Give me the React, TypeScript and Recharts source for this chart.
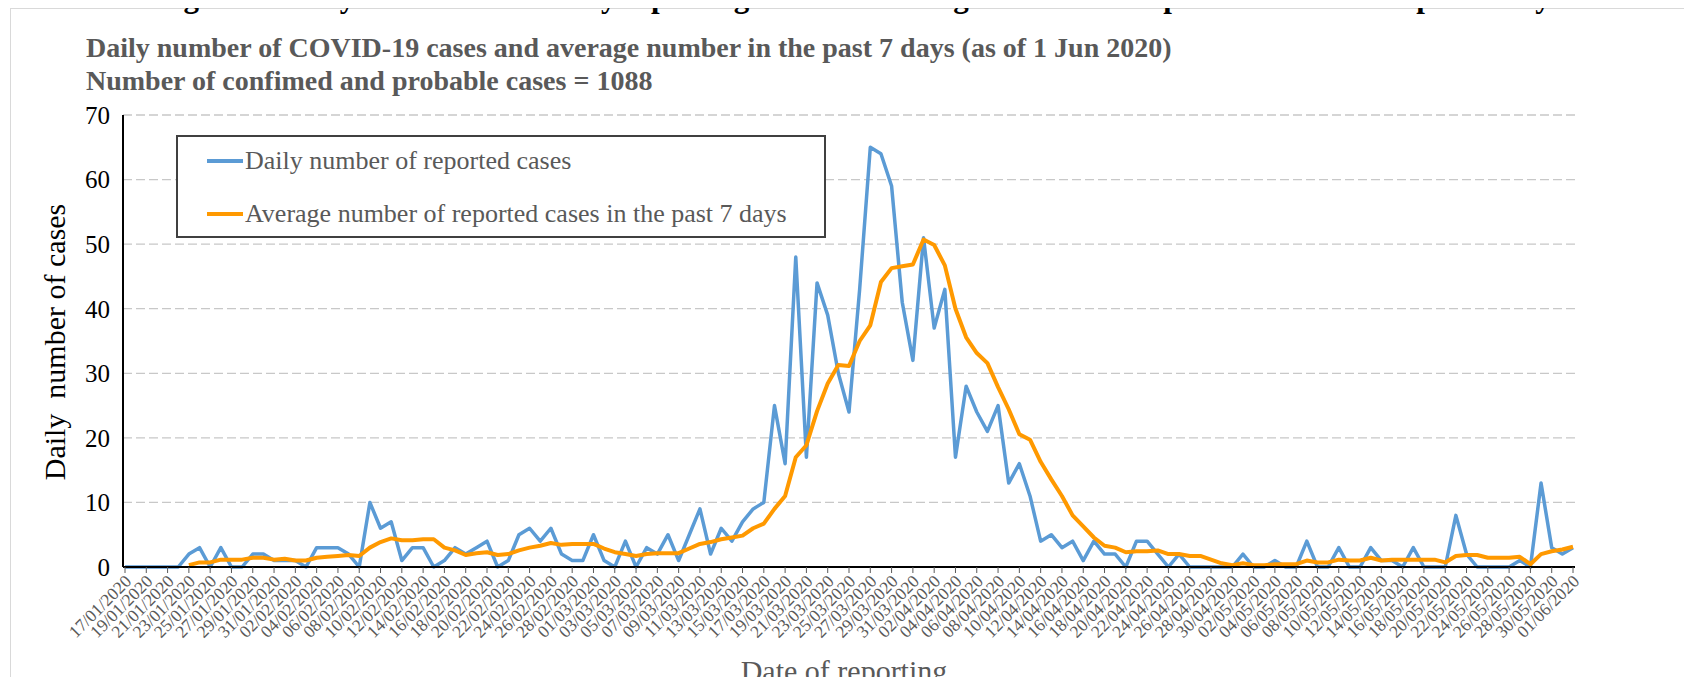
import React from 'react';
import { LineChart, Line, XAxis, YAxis, CartesianGrid, Legend } from 'recharts';

// reporting days, 17/01/2020 .. 01/06/2020
const MONTHS: [string, number, number][] = [
  ['01', 17, 31],
  ['02', 1, 29],
  ['03', 1, 31],
  ['04', 1, 30],
  ['05', 1, 31],
  ['06', 1, 1],
];
const DATES: string[] = [];
MONTHS.forEach(([m, from, to]) => {
  for (let d = from; d <= to; d++) DATES.push(`${String(d).padStart(2, '0')}/${m}/2020`);
});

// daily number of reported cases
const DAILY_JAN = [0, 0, 0, 0, 0, 0, 2, 3, 0, 3, 0, 0, 2, 2, 1];
const DAILY_FEB = [1, 1, 0, 3, 3, 3, 2, 0, 10, 6, 7, 1, 3, 3, 0, 1, 3, 2, 3, 4, 0, 1, 5, 6, 4, 6, 2, 1, 1];
const DAILY_MAR = [5, 1, 0, 4, 0, 3, 2, 5, 1, 5, 9, 2, 6, 4, 7, 9, 10, 25, 16, 48, 17, 44, 39, 30, 24, 43, 65, 64, 59, 41, 32];
const DAILY_APR = [51, 37, 43, 17, 28, 24, 21, 25, 13, 16, 11, 4, 5, 3, 4, 1, 4, 2, 2, 0, 4, 4, 2, 0, 2, 0, 0, 0, 0, 0];
const DAILY_MAY = [2, 0, 0, 1, 0, 0, 4, 0, 0, 3, 0, 0, 3, 1, 1, 0, 3, 0, 0, 0, 8, 2, 0, 0, 0, 0, 1, 0, 13, 3, 2];
const DAILY_JUN = [3];

// average number of reported cases in the past 7 days
const AVG_JAN = [null, null, null, null, null, null, 0.29, 0.71, 0.71, 1.14, 1.14, 1.14, 1.43, 1.43, 1.14];
const AVG_FEB = [1.29, 1.0, 1.0, 1.43, 1.57, 1.71, 1.86, 1.71, 3.0, 3.86, 4.43, 4.14, 4.14, 4.29, 4.29, 3.0, 2.57, 1.86, 2.14, 2.29, 1.86, 2.0, 2.57, 3.0, 3.29, 3.71, 3.43, 3.57, 3.57];
const AVG_MAR = [3.57, 2.86, 2.29, 2.0, 1.71, 2.0, 2.14, 2.14, 2.14, 2.86, 3.57, 3.86, 4.29, 4.57, 4.86, 6.0, 6.71, 9.0, 11.0, 17.0, 18.86, 24.14, 28.43, 31.29, 31.14, 35.0, 37.43, 44.14, 46.29, 46.57, 46.86];
const AVG_APR = [50.71, 49.86, 46.71, 40.0, 35.57, 33.14, 31.57, 27.86, 24.43, 20.57, 19.71, 16.29, 13.57, 11.0, 8.0, 6.29, 4.57, 3.29, 3.0, 2.29, 2.43, 2.43, 2.57, 2.0, 2.0, 1.71, 1.71, 1.14, 0.57, 0.29];
const AVG_MAY = [0.57, 0.29, 0.29, 0.43, 0.43, 0.43, 1.0, 0.71, 0.71, 1.14, 1.0, 1.0, 1.43, 1.0, 1.14, 1.14, 1.14, 1.14, 1.14, 0.71, 1.71, 1.86, 1.86, 1.43, 1.43, 1.43, 1.57, 0.43, 2.0, 2.43, 2.71];
const AVG_JUN = [3.14];

const Y_TICKS = [0, 10, 20, 30, 40, 50, 60, 70];

const DAILY = [...DAILY_JAN, ...DAILY_FEB, ...DAILY_MAR, ...DAILY_APR, ...DAILY_MAY, ...DAILY_JUN];
const AVG = [...AVG_JAN, ...AVG_FEB, ...AVG_MAR, ...AVG_APR, ...AVG_MAY, ...AVG_JUN];

const data = DATES.map((date, i) => ({ date, daily: DAILY[i], avg: AVG[i] }));

const SERIF = '"Liberation Serif", "Times New Roman", serif';
const BLUE = '#5B9BD5';
const ORANGE = '#FF9900';
const GREY = '#595959';

const XTick = ({ x, y, payload }: any) => (
  <text
    x={x + 3}
    y={y + 3}
    transform={`rotate(-45 ${x + 3} ${y + 3})`}
    textAnchor="end"
    dy="0.35em"
    fill={GREY}
    fontSize={17.5}
    fontFamily={SERIF}
  >
    {payload.value}
  </text>
);

const LegendBox = () => (
  <div style={{
    width: '100%',
    height: '100%',
    boxSizing: 'border-box',
    border: '2px solid #404040',
    background: '#fff',
    fontFamily: SERIF,
    fontSize: 26,
    color: GREY,
    position: 'relative'
  }}>
    {[
      { label: 'Daily number of reported cases', color: BLUE, top: 24 },
      { label: 'Average number of reported cases in the past 7 days', color: ORANGE, top: 77 },
    ].map(item => (
      <div key={item.label} style={{ position: 'absolute', left: 29, top: item.top - 15, height: 30, display: 'flex', alignItems: 'center', whiteSpace: 'nowrap' }}>
        <span style={{ display: 'inline-block', width: 36, height: 4, background: item.color, marginRight: 2 }} />
        <span>{item.label}</span>
      </div>
    ))}
  </div>
);

export default function App() {
  return (
    <div style={{ position: 'relative', margin: -8, width: 1692, height: 685, overflow: 'hidden', background: '#fff' }}>
      <div style={{ position: 'absolute', left: 10, top: 8, width: 1700, height: 700, borderLeft: '1px solid #d9d9d9', borderTop: '1px solid #d9d9d9' }} />
      {/* figure caption, cut off by the top edge as in the source page */}
      <div style={{ position: 'absolute', left: 156, top: -19, fontFamily: SERIF, fontWeight: 'bold', fontSize: 31, lineHeight: '31px', whiteSpace: 'nowrap', color: '#000' }}>
        Figure 2: Daily number of cases by reporting date and average number of reported cases in the past 7 days
      </div>
      <div style={{ position: 'absolute', left: 86, top: 31, fontFamily: SERIF, fontWeight: 'bold', fontSize: 28, lineHeight: '33px', whiteSpace: 'nowrap', color: GREY }}>
        <div>Daily number of COVID-19 cases and average number in the past 7 days (as of 1 Jun 2020)</div>
        <div>Number of confimed and probable cases = 1088</div>
      </div>
      <LineChart
        width={1692}
        height={685}
        data={data}
        margin={{ top: 115, right: 117, bottom: 18, left: 60 }}
        style={{ position: 'absolute', left: 0, top: 0 }}
      >
        <CartesianGrid vertical={false} stroke="#c8c8c8" strokeDasharray="9 4" strokeWidth={1.3} />
        <XAxis
          dataKey="date"
          scale="point"
          interval={1}
          padding={{ left: 2, right: 2 }}
          height={100}
          axisLine={{ stroke: '#000', strokeWidth: 2 }}
          tickLine={{ stroke: GREY }}
          tickSize={6}
          tick={<XTick />}
          label={() => (
            <text x={844} y={670} textAnchor="middle" dominantBaseline="central" fill={GREY} fontSize={30} fontFamily={SERIF}>
              Date of reporting
            </text>
          )}
        />
        <YAxis
          domain={[0, 70]}
          ticks={Y_TICKS}
          width={63}
          axisLine={{ stroke: '#000', strokeWidth: 2 }}
          tickLine={false}
          tickSize={0}
          tickMargin={13}
          tick={{ fill: '#000', fontSize: 25, fontFamily: SERIF }}
          label={() => (
            <text
              x={54}
              y={342}
              transform="rotate(-90 54 342)"
              textAnchor="middle"
              dominantBaseline="central"
              fill="#000"
              fontSize={30}
              fontFamily={SERIF}
              style={{ whiteSpace: 'pre' }}
            >
              {'Daily  number of cases'}
            </text>
          )}
        />
        <Legend
          layout="vertical"
          align="center"
          verticalAlign="middle"
          content={<LegendBox />}
          wrapperStyle={{ left: 176, top: 135, width: 650, height: 103 }}
        />
        <Line
          type="linear"
          dataKey="daily"
          name="Daily number of reported cases"
          stroke={BLUE}
          strokeWidth={3.5}
          dot={false}
          strokeLinejoin="round"
          isAnimationActive={false}
        />
        <Line
          type="linear"
          dataKey="avg"
          name="Average number of reported cases in the past 7 days"
          stroke={ORANGE}
          strokeWidth={4}
          dot={false}
          strokeLinejoin="round"
          connectNulls={false}
          isAnimationActive={false}
        />
      </LineChart>
    </div>
  );
}
